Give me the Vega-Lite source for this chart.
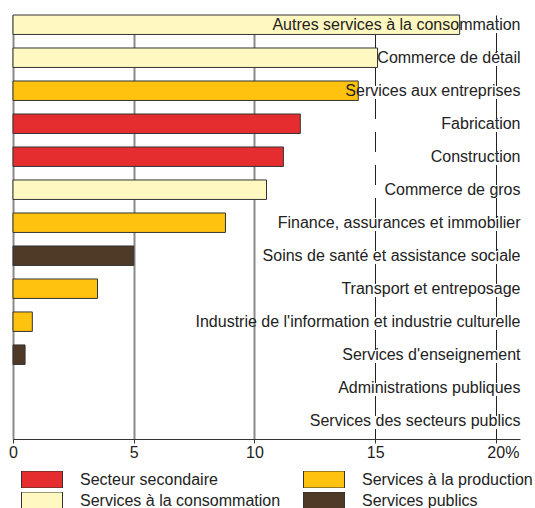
{
  "$schema": "https://vega.github.io/schema/vega-lite/v6.json",
  "autosize": "none",
  "width": 507,
  "height": 424,
  "padding": {"left": 13, "top": 15, "right": 15, "bottom": 69},
  "background": "white",
  "config": {
    "font": "Liberation Sans",
    "view": {"stroke": null}
  },
  "data": {
    "values": [
      {"secteur": "Autres services à la consommation", "valeur": 18.5, "groupe": "Services à la consommation"},
      {"secteur": "Commerce de détail", "valeur": 15.1, "groupe": "Services à la consommation"},
      {"secteur": "Services aux entreprises", "valeur": 14.3, "groupe": "Services à la production"},
      {"secteur": "Fabrication", "valeur": 11.9, "groupe": "Secteur secondaire"},
      {"secteur": "Construction", "valeur": 11.2, "groupe": "Secteur secondaire"},
      {"secteur": "Commerce de gros", "valeur": 10.5, "groupe": "Services à la consommation"},
      {"secteur": "Finance, assurances et immobilier", "valeur": 8.8, "groupe": "Services à la production"},
      {"secteur": "Soins de santé et assistance sociale", "valeur": 5.0, "groupe": "Services publics"},
      {"secteur": "Transport et entreposage", "valeur": 3.5, "groupe": "Services à la production"},
      {"secteur": "Industrie de l'information et industrie culturelle", "valeur": 0.8, "groupe": "Services à la production"},
      {"secteur": "Services d'enseignement", "valeur": 0.5, "groupe": "Services publics"},
      {"secteur": "Administrations publiques", "valeur": 0, "groupe": "Services publics"},
      {"secteur": "Services des secteurs publics", "valeur": 0, "groupe": "Services publics"}
    ]
  },
  "mark": {"type": "bar", "stroke": "#333333", "strokeWidth": 1, "opacity": 1},
  "encoding": {
    "y": {
      "field": "secteur",
      "type": "nominal",
      "sort": null,
      "scale": {"paddingInner": 0.41, "paddingOuter": 0.13, "align": 0},
      "axis": {
        "orient": "right",
        "title": null,
        "domain": false,
        "ticks": false,
        "grid": false,
        "labelAlign": "right",
        "labelBaseline": "middle",
        "labelPadding": 0,
        "labelFontSize": 16,
        "labelColor": "#222222",
        "labelLimit": 0,
        "zindex": 1
      }
    },
    "x": {
      "field": "valeur",
      "type": "quantitative",
      "scale": {"domain": [0, 21], "nice": false},
      "axis": {
        "title": null,
        "values": [0, 5, 10, 15, 20],
        "labelExpr": "datum.value == 20 ? '20%' : datum.label",
        "labelFlush": false,
        "labelFontSize": 16,
        "labelColor": "#222222",
        "labelPadding": 1,
        "labelAlign": {"condition": {"test": "datum.value == 20", "value": "left"}, "value": "center"},
        "labelOffset": {"condition": {"test": "datum.value == 20", "value": -9}, "value": 0},
        "domainColor": "#333333",
        "domainWidth": 1,
        "tickColor": "#333333",
        "tickSize": 4,
        "grid": true,
        "gridColor": {"condition": {"test": "datum.value >= 15", "value": "#222222"}, "value": "#8a8a8a"},
        "gridWidth": {"condition": {"test": "datum.value >= 15", "value": 1}, "value": 2},
        "gridDash": {"condition": {"test": "datum.value >= 15", "value": [20, 13]}, "value": []},
        "gridDashOffset": 9.5,
        "gridOpacity": 1
      }
    },
    "strokeOpacity": {
      "condition": {"test": "datum.valeur > 0", "value": 1},
      "value": 0
    },
    "color": {
      "field": "groupe",
      "type": "nominal",
      "scale": {
        "domain": ["Secteur secondaire", "Services à la consommation", "Services à la production", "Services publics"],
        "range": ["#e52d2f", "#fff8c0", "#ffc20e", "#4f3a28"]
      },
      "legend": {
        "title": null,
        "orient": "none",
        "legendX": 8,
        "legendY": 456,
        "columns": 2,
        "padding": 0,
        "symbolType": "M-1,-0.415L1,-0.415L1,0.415L-1,0.415Z",
        "symbolSize": 1681,
        "clipHeight": 17,
        "rowPadding": 4,
        "columnPadding": 22,
        "labelOffset": 17,
        "labelFontSize": 16,
        "labelColor": "#222222",
        "labelLimit": 0,
        "symbolStrokeColor": "#333333",
        "symbolStrokeWidth": 1,
        "symbolOpacity": 1,
        "encode": {"symbols": {"update": {"stroke": {"value": "#333333"}, "strokeWidth": {"value": 1}, "strokeOpacity": {"value": 1}}}}
      }
    }
  }
}
